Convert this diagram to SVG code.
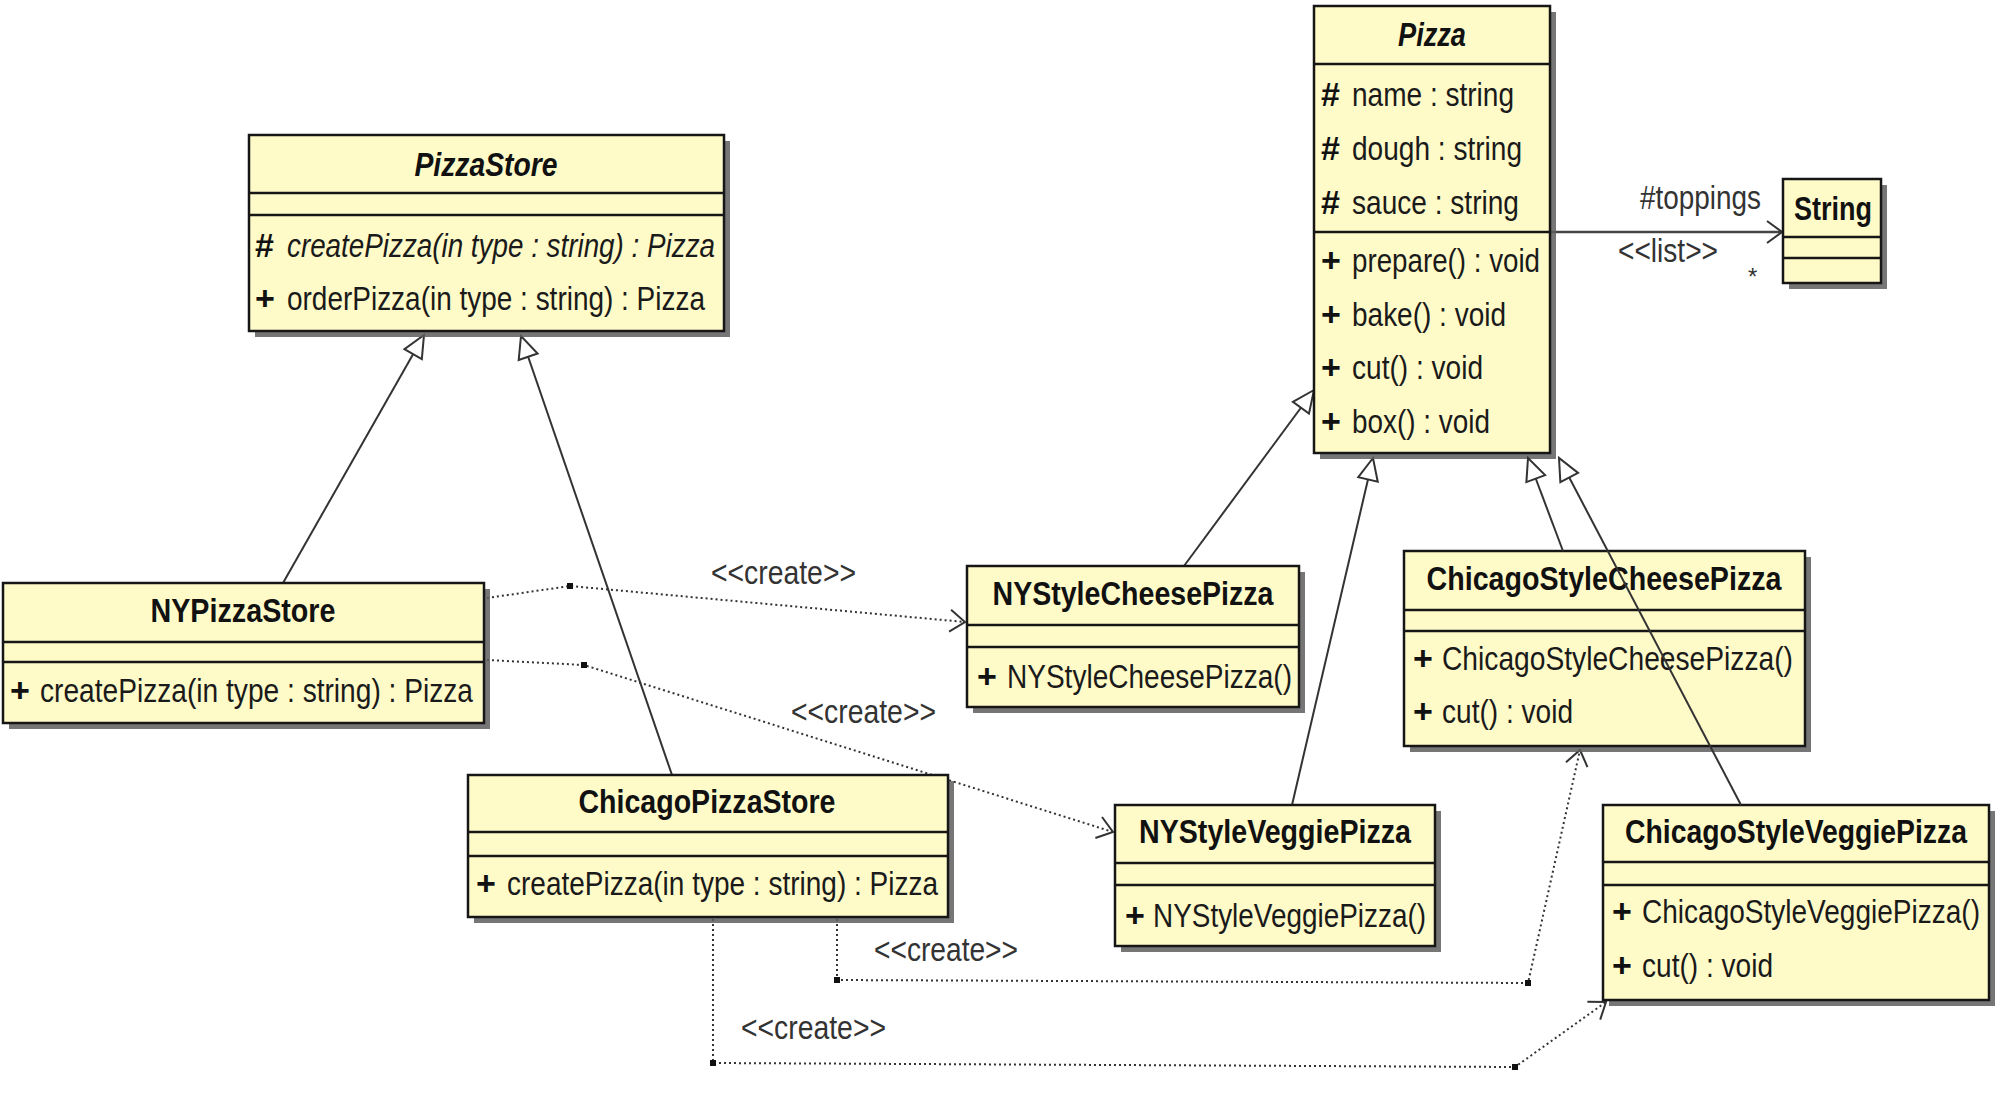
<svg xmlns="http://www.w3.org/2000/svg" width="2000" height="1096" viewBox="0 0 2000 1096">
<style>
.bg{fill:#ffffff}
.box{fill:#FFFBC9;stroke:#161616;stroke-width:2.5}
.sh{fill:#5e5e5e;opacity:0.85}
.dv{stroke:#161616;stroke-width:2.5}
text{font-family:'Liberation Sans Narrow','Arial Narrow','Liberation Sans',Arial,sans-serif;font-size:34px;fill:#1a1a1a}
.t{font-weight:bold;text-anchor:middle;fill:#111}
.ti{font-weight:bold;font-style:italic;text-anchor:middle;fill:#111}
.v{font-weight:bold;fill:#111}
.i{font-style:italic}
.lbl{fill:#333}
.gen{fill:none;stroke:#333;stroke-width:2}
.dep{fill:none;stroke:#333;stroke-width:2;stroke-dasharray:2 3}
.asc{fill:none;stroke:#444;stroke-width:2.5}
.sq{fill:#111}
</style>
<defs>
<marker id="tri" markerUnits="userSpaceOnUse" viewBox="-26 -13 28 26" markerWidth="28" markerHeight="26" refX="0" refY="0" orient="auto">
<path d="M0,0 L-22,-10 L-22,10 Z" fill="#ffffff" stroke="#333" stroke-width="2"/>
</marker>
<marker id="open" markerUnits="userSpaceOnUse" viewBox="-20 -14 22 28" markerWidth="22" markerHeight="28" refX="0" refY="0" orient="auto">
<path d="M-15,-11 L0,0 L-15,11" fill="none" stroke="#333" stroke-width="2"/>
</marker>
</defs>
<rect class="bg" x="0" y="0" width="2000" height="1096"/>

<g id="connectors">
  <line class="gen" x1="283" y1="583" x2="424" y2="335" marker-end="url(#tri)"/>
  <line class="gen" x1="672" y1="775" x2="521" y2="336" marker-end="url(#tri)"/>
  <line class="gen" x1="1184" y1="566" x2="1314" y2="390" marker-end="url(#tri)"/>
  <line class="gen" x1="1292" y1="805" x2="1373" y2="458" marker-end="url(#tri)"/>
  <line class="asc" x1="1550" y1="232" x2="1782" y2="232" marker-end="url(#open)"/>
  <text class="lbl" x="1640" y="209" textLength="121" lengthAdjust="spacingAndGlyphs">#toppings</text>
  <text class="lbl" x="1618" y="262" textLength="100" lengthAdjust="spacingAndGlyphs">&lt;&lt;list&gt;&gt;</text>
  <text class="lbl" x="1748" y="285" style="font-size:24px">*</text>

  <polyline class="dep" points="487,598 570,586 965,622" marker-end="url(#open)"/>
  <rect class="sq" x="567" y="583" width="6" height="6"/>
  <text class="lbl" x="711" y="584" textLength="145" lengthAdjust="spacingAndGlyphs">&lt;&lt;create&gt;&gt;</text>

  <polyline class="dep" points="487,660 584,665 1113,832" marker-end="url(#open)"/>
  <rect class="sq" x="581" y="662" width="6" height="6"/>
  <text class="lbl" x="791" y="723" textLength="145" lengthAdjust="spacingAndGlyphs">&lt;&lt;create&gt;&gt;</text>

  <polyline class="dep" points="837,919 837,980 1528,983 1580,750" marker-end="url(#open)"/>
  <rect class="sq" x="834" y="977" width="6" height="6"/>
  <rect class="sq" x="1525" y="980" width="6" height="6"/>
  <text class="lbl" x="874" y="961" textLength="144" lengthAdjust="spacingAndGlyphs">&lt;&lt;create&gt;&gt;</text>

  <polyline class="dep" points="713,919 713,1063 1515,1067 1606,1002" marker-end="url(#open)"/>
  <rect class="sq" x="710" y="1060" width="6" height="6"/>
  <rect class="sq" x="1512" y="1064" width="6" height="6"/>
  <text class="lbl" x="741" y="1039" textLength="145" lengthAdjust="spacingAndGlyphs">&lt;&lt;create&gt;&gt;</text>
</g>

<g id="PizzaStore">
  <rect class="sh" x="255" y="141" width="475" height="196"/>
  <rect class="box" x="249" y="135" width="475" height="196"/>
  <line class="dv" x1="249" y1="193" x2="724" y2="193"/>
  <line class="dv" x1="249" y1="215" x2="724" y2="215"/>
  <text class="ti" x="486" y="176" textLength="143" lengthAdjust="spacingAndGlyphs">PizzaStore</text>
  <text class="v" x="255" y="257">#</text>
  <text class="i" x="287" y="257" textLength="428" lengthAdjust="spacingAndGlyphs">createPizza(in type : string) : Pizza</text>
  <text class="v" x="255" y="310">+</text>
  <text x="287" y="310" textLength="418" lengthAdjust="spacingAndGlyphs">orderPizza(in type : string) : Pizza</text>
</g>

<g id="Pizza">
  <rect class="sh" x="1320" y="12" width="236" height="447"/>
  <rect class="box" x="1314" y="6" width="236" height="447"/>
  <line class="dv" x1="1314" y1="64" x2="1550" y2="64"/>
  <line class="dv" x1="1314" y1="232" x2="1550" y2="232"/>
  <text class="ti" x="1432" y="46" textLength="68" lengthAdjust="spacingAndGlyphs">Pizza</text>
  <text class="v" x="1321" y="106">#</text>
  <text x="1352" y="106" textLength="162" lengthAdjust="spacingAndGlyphs">name : string</text>
  <text class="v" x="1321" y="160">#</text>
  <text x="1352" y="160" textLength="170" lengthAdjust="spacingAndGlyphs">dough : string</text>
  <text class="v" x="1321" y="214">#</text>
  <text x="1352" y="214" textLength="167" lengthAdjust="spacingAndGlyphs">sauce : string</text>
  <text class="v" x="1321" y="272">+</text>
  <text x="1352" y="272" textLength="188" lengthAdjust="spacingAndGlyphs">prepare() : void</text>
  <text class="v" x="1321" y="326">+</text>
  <text x="1352" y="326" textLength="154" lengthAdjust="spacingAndGlyphs">bake() : void</text>
  <text class="v" x="1321" y="379">+</text>
  <text x="1352" y="379" textLength="131" lengthAdjust="spacingAndGlyphs">cut() : void</text>
  <text class="v" x="1321" y="433">+</text>
  <text x="1352" y="433" textLength="138" lengthAdjust="spacingAndGlyphs">box() : void</text>
</g>

<g id="String">
  <rect class="sh" x="1789" y="185" width="98" height="104"/>
  <rect class="box" x="1783" y="179" width="98" height="104"/>
  <line class="dv" x1="1783" y1="237" x2="1881" y2="237"/>
  <line class="dv" x1="1783" y1="258" x2="1881" y2="258"/>
  <text class="t" x="1833" y="220" textLength="78" lengthAdjust="spacingAndGlyphs">String</text>
</g>

<g id="NYPizzaStore">
  <rect class="sh" x="9" y="589" width="481" height="140"/>
  <rect class="box" x="3" y="583" width="481" height="140"/>
  <line class="dv" x1="3" y1="642" x2="484" y2="642"/>
  <line class="dv" x1="3" y1="662" x2="484" y2="662"/>
  <text class="t" x="243" y="622" textLength="185" lengthAdjust="spacingAndGlyphs">NYPizzaStore</text>
  <text class="v" x="10" y="702">+</text>
  <text x="40" y="702" textLength="433" lengthAdjust="spacingAndGlyphs">createPizza(in type : string) : Pizza</text>
</g>

<g id="ChicagoPizzaStore">
  <rect class="sh" x="474" y="781" width="480" height="142"/>
  <rect class="box" x="468" y="775" width="480" height="142"/>
  <line class="dv" x1="468" y1="832" x2="948" y2="832"/>
  <line class="dv" x1="468" y1="856" x2="948" y2="856"/>
  <text class="t" x="707" y="813" textLength="257" lengthAdjust="spacingAndGlyphs">ChicagoPizzaStore</text>
  <text class="v" x="476" y="895">+</text>
  <text x="507" y="895" textLength="431" lengthAdjust="spacingAndGlyphs">createPizza(in type : string) : Pizza</text>
</g>

<g id="NYStyleCheesePizza">
  <rect class="sh" x="973" y="572" width="332" height="141"/>
  <rect class="box" x="967" y="566" width="332" height="141"/>
  <line class="dv" x1="967" y1="625" x2="1299" y2="625"/>
  <line class="dv" x1="967" y1="647" x2="1299" y2="647"/>
  <text class="t" x="1133" y="605" textLength="281" lengthAdjust="spacingAndGlyphs">NYStyleCheesePizza</text>
  <text class="v" x="977" y="688">+</text>
  <text x="1007" y="688" textLength="285" lengthAdjust="spacingAndGlyphs">NYStyleCheesePizza()</text>
</g>

<g id="ChicagoStyleCheesePizza">
  <rect class="sh" x="1410" y="557" width="401" height="195"/>
  <rect class="box" x="1404" y="551" width="401" height="195"/>
  <line class="dv" x1="1404" y1="610" x2="1805" y2="610"/>
  <line class="dv" x1="1404" y1="631" x2="1805" y2="631"/>
  <text class="t" x="1604" y="590" textLength="355" lengthAdjust="spacingAndGlyphs">ChicagoStyleCheesePizza</text>
  <text class="v" x="1413" y="670">+</text>
  <text x="1442" y="670" textLength="351" lengthAdjust="spacingAndGlyphs">ChicagoStyleCheesePizza()</text>
  <text class="v" x="1413" y="723">+</text>
  <text x="1442" y="723" textLength="131" lengthAdjust="spacingAndGlyphs">cut() : void</text>
</g>

<g id="NYStyleVeggiePizza">
  <rect class="sh" x="1121" y="811" width="320" height="141"/>
  <rect class="box" x="1115" y="805" width="320" height="141"/>
  <line class="dv" x1="1115" y1="863" x2="1435" y2="863"/>
  <line class="dv" x1="1115" y1="885" x2="1435" y2="885"/>
  <text class="t" x="1275" y="843" textLength="272" lengthAdjust="spacingAndGlyphs">NYStyleVeggiePizza</text>
  <text class="v" x="1125" y="927">+</text>
  <text x="1153" y="927" textLength="273" lengthAdjust="spacingAndGlyphs">NYStyleVeggiePizza()</text>
</g>

<g id="ChicagoStyleVeggiePizza">
  <rect class="sh" x="1609" y="811" width="386" height="195"/>
  <rect class="box" x="1603" y="805" width="386" height="195"/>
  <line class="dv" x1="1603" y1="862" x2="1989" y2="862"/>
  <line class="dv" x1="1603" y1="885" x2="1989" y2="885"/>
  <text class="t" x="1796" y="843" textLength="342" lengthAdjust="spacingAndGlyphs">ChicagoStyleVeggiePizza</text>
  <text class="v" x="1612" y="923">+</text>
  <text x="1642" y="923" textLength="338" lengthAdjust="spacingAndGlyphs">ChicagoStyleVeggiePizza()</text>
  <text class="v" x="1612" y="977">+</text>
  <text x="1642" y="977" textLength="131" lengthAdjust="spacingAndGlyphs">cut() : void</text>
</g>

<g id="generalization-overlay">
  <line class="gen" x1="1563" y1="551" x2="1528" y2="458" marker-end="url(#tri)"/>
  <line class="gen" x1="1741" y1="805" x2="1559" y2="458" marker-end="url(#tri)"/>
</g>
</svg>
